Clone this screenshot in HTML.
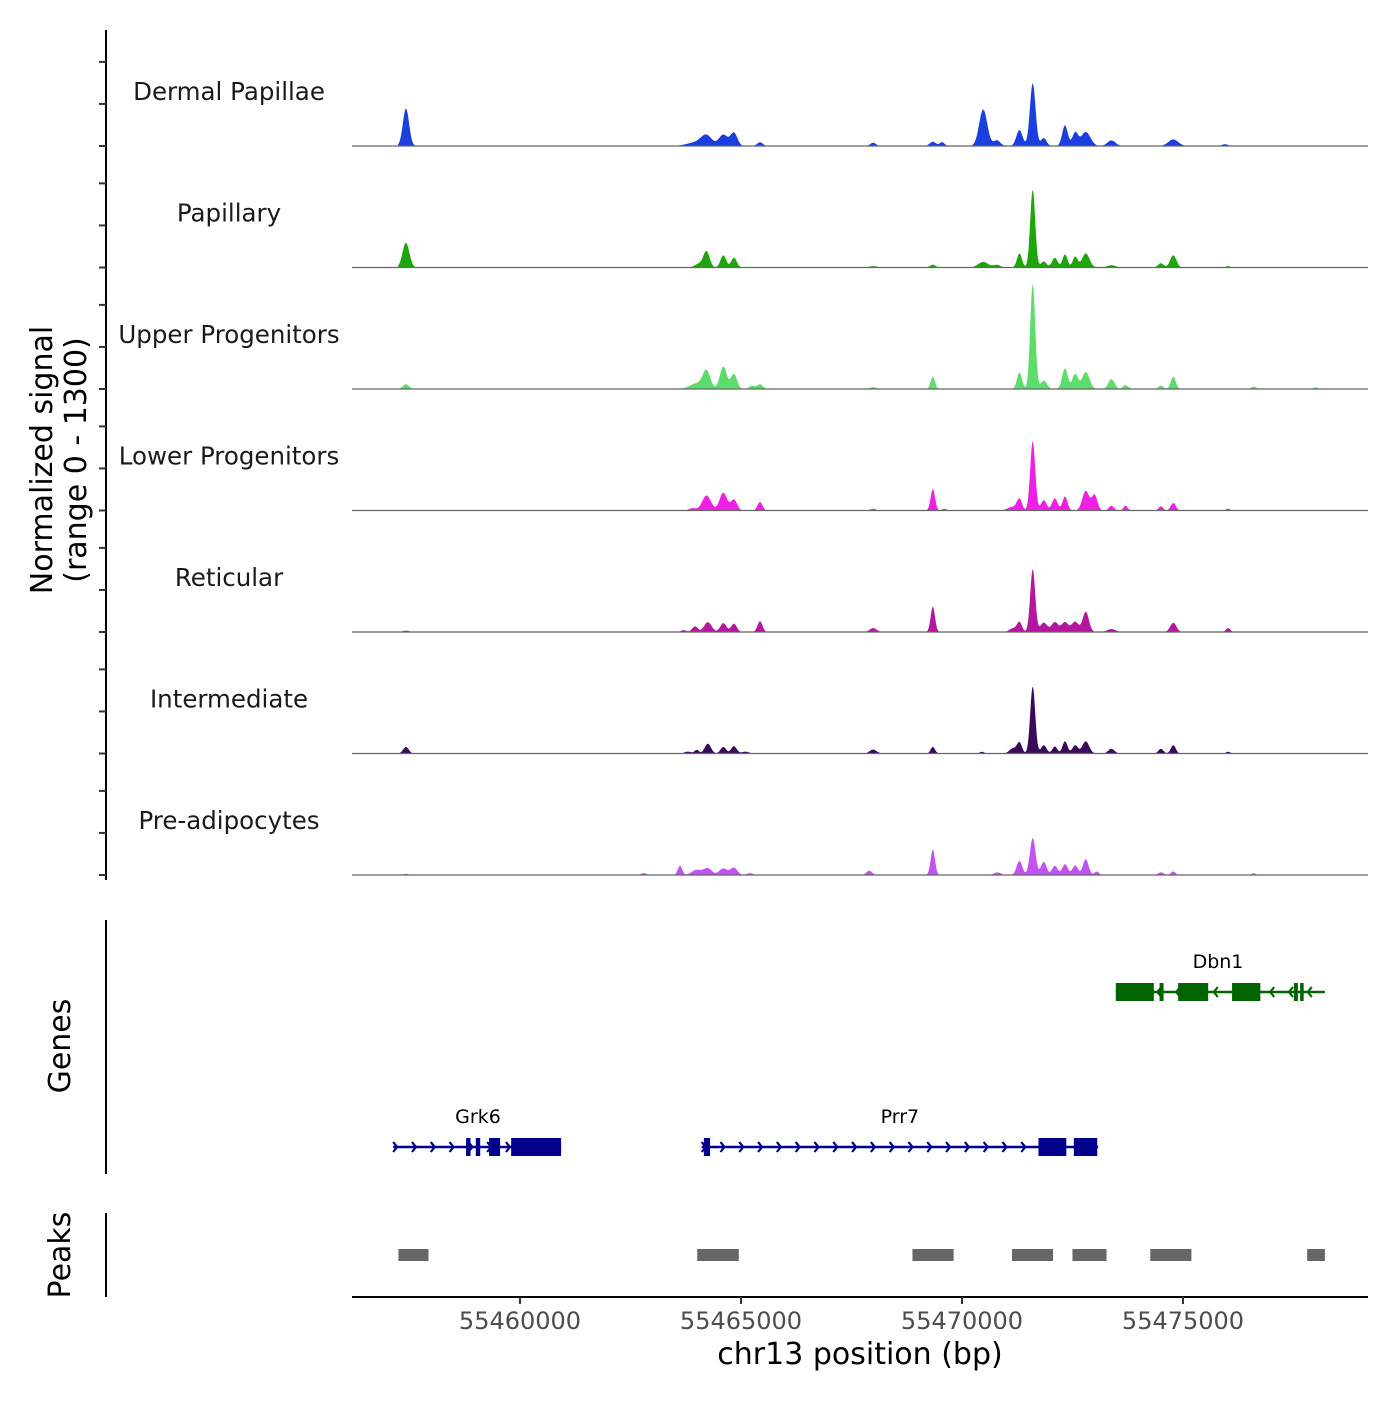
<!DOCTYPE html>
<html><head><meta charset="utf-8"><style>
html,body{margin:0;padding:0;background:#fff}
svg text{font-family:"DejaVu Sans","Liberation Sans",sans-serif}
</style></head><body>
<svg id="chart" width="1400" height="1400" viewBox="0 0 1400 1400" xmlns="http://www.w3.org/2000/svg">
<g id="tracks"></g>
<g id="leftaxis"></g>
<text transform="translate(52,460) rotate(-90)" text-anchor="middle" font-size="30">Normalized signal</text>
<text transform="translate(86,460) rotate(-90)" text-anchor="middle" font-size="30">(range 0 - 1300)</text>
<g id="genes"></g>
<line x1="106" y1="920" x2="106" y2="1174" stroke="#000" stroke-width="2"/>
<text transform="translate(70,1046) rotate(-90)" text-anchor="middle" font-size="30">Genes</text>
<g id="peaks"></g>
<line x1="106" y1="1213" x2="106" y2="1297" stroke="#000" stroke-width="2"/>
<text transform="translate(70,1255) rotate(-90)" text-anchor="middle" font-size="30">Peaks</text>
<g id="xaxis"></g>
<text x="860" y="1364" text-anchor="middle" font-size="30">chr13 position (bp)</text>
</svg>
<script>
const NS="http://www.w3.org/2000/svg";
const trackNames=["Dermal Papillae","Papillary","Upper Progenitors","Lower Progenitors","Reticular","Intermediate","Pre-adipocytes"];
const trackColors=["#1a3fdc","#1fa50c","#5cdc6a","#ee20e4","#b5169f","#3a0a5a","#c252f2"];
// peaks: [center bp, height (signal units), half-width bp]
const peaksDP=[[55457420,400,100],[55464000,40,300],[55464220,100,170],[55464600,120,140],[55464840,140,110],[55465430,40,90],[55467990,35,90],[55469340,45,100],[55469550,40,80],[55470480,390,130],[55470790,60,110],[55471300,170,100],[55471600,670,90],[55471850,85,90],[55472330,220,90],[55472560,140,90],[55472800,150,150],[55473380,60,130],[55474780,70,160],[55475950,20,90]];
const peaksPap=[[55457420,265,110],[55464050,40,130],[55464220,170,100],[55464600,130,90],[55464840,105,90],[55467990,15,130],[55469340,30,90],[55470480,60,160],[55470790,28,110],[55471300,150,80],[55471600,830,80],[55471850,65,90],[55472100,105,90],[55472330,140,80],[55472560,115,80],[55472800,150,120],[55473380,25,130],[55474500,45,90],[55474780,130,100],[55476020,15,70]];
const peaksUP=[[55457420,50,100],[55464000,60,220],[55464220,185,120],[55464600,240,110],[55464840,160,100],[55465250,35,90],[55465430,50,90],[55467990,20,110],[55469340,130,70],[55471300,175,80],[55471600,1120,80],[55471850,90,100],[55472330,220,90],[55472560,160,90],[55472800,180,120],[55473380,105,100],[55473700,40,90],[55474500,35,80],[55474780,130,80],[55476600,25,80],[55478000,18,70]];
const peaksLP=[[55463900,25,110],[55464220,160,140],[55464600,190,120],[55464840,115,100],[55465430,90,80],[55467990,18,90],[55469340,230,70],[55469600,18,70],[55471150,40,160],[55471300,115,80],[55471600,740,80],[55471850,110,90],[55472100,130,90],[55472330,150,80],[55472800,210,110],[55473000,165,90],[55473380,50,80],[55473700,50,70],[55474500,45,70],[55474780,80,80],[55476020,18,70]];
const peaksRet=[[55457420,15,100],[55463700,20,90],[55463960,60,90],[55464250,105,120],[55464600,95,100],[55464840,88,90],[55465430,115,80],[55467990,42,110],[55469340,270,70],[55471150,40,110],[55471300,105,80],[55471600,670,80],[55471850,100,110],[55472100,105,110],[55472330,105,110],[55472560,110,110],[55472800,215,100],[55473380,32,130],[55474780,98,100],[55476020,42,70]];
const peaksInt=[[55457420,70,90],[55463800,20,110],[55464000,38,70],[55464250,105,100],[55464600,70,90],[55464840,78,90],[55465100,20,110],[55467990,42,110],[55469340,70,70],[55470450,18,70],[55471150,55,110],[55471300,115,80],[55471600,715,80],[55471850,88,90],[55472100,75,80],[55472330,130,80],[55472560,88,90],[55472800,130,110],[55473380,50,100],[55474500,50,80],[55474780,88,80],[55476020,18,70]];
const peaksPre=[[55457420,12,90],[55462800,20,90],[55463620,98,70],[55464000,55,160],[55464250,70,130],[55464600,70,130],[55464840,78,110],[55465200,20,90],[55467900,46,90],[55469340,270,70],[55470800,28,110],[55471300,150,90],[55471600,395,90],[55471850,140,90],[55472100,98,90],[55472330,115,90],[55472560,102,90],[55472800,168,90],[55473050,38,70],[55474500,28,90],[55474780,38,70],[55476600,18,70]];
const trackPeaks=[peaksDP,peaksPap,peaksUP,peaksLP,peaksRet,peaksInt,peaksPre];
const xTicks=[55460000,55465000,55470000,55475000];
const yTickVals=[0,450,900];
const peakRegions=[[55457250,55457930],[55464010,55464950],[55468880,55469810],[55471130,55472060],[55472500,55473270],[55474260,55475190],[55477810,55478210]];
const genes=[
 {name:"Grk6",start:55457130,end:55460930,strand:1,row:1,exons:[[55458780,55458880,0],[55459000,55459100,0],[55459300,55459550,1],[55459800,55460930,1]]},
 {name:"Prr7",start:55464110,end:55473080,strand:1,row:1,exons:[[55464160,55464300,0],[55471730,55472360,1],[55472530,55473060,1]]},
 {name:"Dbn1",start:55473480,end:55478210,strand:-1,row:0,exons:[[55473480,55474340,1],[55474470,55474560,0],[55474890,55475570,1],[55476110,55476750,1],[55477510,55477600,0],[55477650,55477730,0]]}
];
const X0=55460000,PX0=520,PXPERBP=221/5000;
const x=bp=>PX0+(bp-X0)*PXPERBP;
const TRACK_TOP=146,TRACK_STEP=121.5,YMAX=1300;
const yScale=v=>v*(TRACK_STEP/YMAX);
const SIG_START=55457250,SIG_END=55478200;
function mk(tag,attrs,parent){const e=document.createElementNS(NS,tag);for(const k in attrs)e.setAttribute(k,attrs[k]);parent.appendChild(e);return e;}
const tracksG=document.getElementById('tracks');
trackPeaks.forEach((pk,i)=>{
 const base=TRACK_TOP+i*TRACK_STEP;
 const g=mk('g',{},tracksG);
 
 
 const lbl=mk('text',{x:229,y:base-46,'text-anchor':'middle','font-size':'24.5',fill:'#1a1a1a'},g);
 lbl.textContent=trackNames[i];
 
 
 let pts=[[x(SIG_START),base]];
 for(let px=Math.floor(x(SIG_START));px<=Math.ceil(x(SIG_END));px+=0.5){
  const bp=X0+(px-PX0)/PXPERBP;let v=0;
  pk.forEach(p=>{const d=(bp-p[0])/p[2];v+=p[1]*Math.exp(-d*d);});
  v=Math.min(v,YMAX);
  pts.push([px,base-yScale(v)]);
 }
 pts.push([x(SIG_END),base]);
 const area=mk('polygon',{points:pts.map(p=>p[0].toFixed(1)+','+p[1].toFixed(1)).join(' '),fill:trackColors[i]},g);
 
 
 const bl=mk('line',{x1:352,x2:1368,y1:base,y2:base,stroke:'#666','stroke-width':1.2},g);
 
 
});
const la=document.getElementById('leftaxis');
mk('line',{x1:106,y1:30,x2:106,y2:880,stroke:'#000','stroke-width':2},la);
for(let i=0;i<7;i++){const base=TRACK_TOP+i*TRACK_STEP;yTickVals.forEach(v=>{const t=mk('line',{x1:99,x2:106,y1:base-yScale(v),y2:base-yScale(v),stroke:'#333','stroke-width':2},la);
 
 });}
const gg=document.getElementById('genes');
const rowY=[992,1147];
genes.forEach(gn=>{
 const y=rowY[gn.row];const col=gn.strand>0?'#00008b':'#006400';
 const g=mk('g',{},gg);
 
 
 mk('line',{x1:x(gn.start),x2:x(gn.end),y1:y,y2:y,stroke:col,'stroke-width':2.5},g);
 for(let px=x(gn.start)+4;px<x(gn.end)-4;px+=18.8){
  const d=gn.strand*4;
  mk('polyline',{points:(px-d)+','+(y-5)+' '+px+','+y+' '+(px-d)+','+(y+5),fill:'none',stroke:col,'stroke-width':2.2},g);
 }
 gn.exons.forEach(e=>{const hh=9;const r=mk('rect',{x:x(e[0]),y:y-hh,width:Math.max(3,x(e[1])-x(e[0])),height:hh*2,fill:col},g);
  
  });
 const t=mk('text',{x:(x(gn.start)+x(gn.end))/2,y:y-24,'text-anchor':'middle','font-size':'19',fill:'#000'},g);
 if(gn.name==='Grk6')t.setAttribute('x',478);
 if(gn.name==='Dbn1')t.setAttribute('x',1218);
 t.textContent=gn.name;
 
 
});
const pg=document.getElementById('peaks');
peakRegions.forEach(p=>{const r=mk('rect',{x:x(p[0]),y:1249,width:x(p[1])-x(p[0]),height:12,fill:'#666'},pg);
 
 });
const xa=document.getElementById('xaxis');
mk('line',{x1:352,x2:1368,y1:1297,y2:1297,stroke:'#000','stroke-width':2},xa);
xTicks.forEach(v=>{const t=mk('line',{x1:x(v),x2:x(v),y1:1297,y2:1304,stroke:'#333','stroke-width':2},xa);
 
 
 const l=mk('text',{x:x(v),y:1329,'text-anchor':'middle','font-size':'24',fill:'#4d4d4d'},xa);l.textContent=v;
 
 });
</script>
</body></html>
